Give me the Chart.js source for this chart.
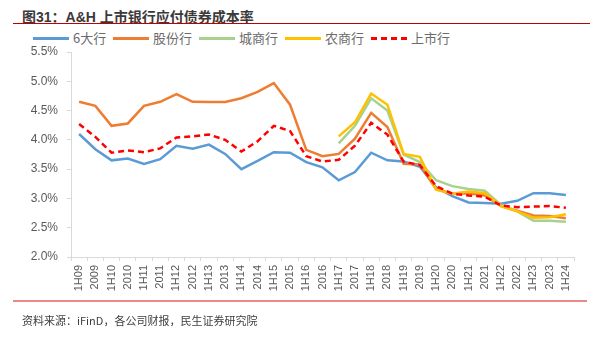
<!DOCTYPE html>
<html>
<head>
<meta charset="utf-8">
<script src="https://cdn.jsdelivr.net/npm/chart.js@4.4.1/dist/chart.umd.min.js"></script>
<style>
  html, body { margin: 0; padding: 0; background: #fff; }
  body { width: 602px; height: 337px; position: relative; overflow: hidden;
         font-family: "Liberation Sans", "Noto Sans CJK SC", sans-serif; }
  #title { position: absolute; left: 22px; top: 6px; font-size: 14px; font-weight: bold; color: #3a3a3a;
           font-family: "Liberation Sans", "Noto Sans CJK SC", sans-serif; }
  #topline { position: absolute; left: 13px; top: 23px; width: 577px; height: 1px; background: #C00000; }
  #bottomline { position: absolute; left: 13px; top: 300px; width: 574px; height: 2px; background: #E8898A; }
  #source { position: absolute; left: 22px; top: 312px; font-size: 11px; color: #404040;
            font-family: "Noto Sans CJK SC", sans-serif; }
  #legend { position: absolute; top: 30px; left: 0; width: 602px; height: 16px; font-size: 13px; color: #6b6b6b;
            font-family: "Noto Sans CJK SC", sans-serif; }
  .item { position: absolute; top: 0; line-height: 16px; white-space: nowrap; }
  .swatch { position: absolute; top: 7px; width: 36px; height: 0; border-top: 3px solid; }
  canvas { position: absolute; left: 0; top: 0; }
</style>
</head>
<body>
<div id="title">图31：A&amp;H 上市银行应付债券成本率</div>
<div id="topline"></div>
<div id="legend"></div>
<canvas id="chart" width="602" height="337"></canvas>
<div id="bottomline"></div>
<div id="source">资料来源：iFinD，各公司财报，民生证券研究院</div>
<script>
/* Data (%) */
const periods = ['1H09', '2009', '1H10', '2010', '1H11', '2011', '1H12', '2012', '1H13', '2013',
                 '1H14', '2014', '1H15', '2015', '1H16', '2016', '1H17', '2017', '1H18', '2018',
                 '1H19', '2019', '1H20', '2020', '1H21', '2021', '1H22', '2022', '1H23', '2023', '1H24'];

const bigSix = [4.10, 3.84, 3.65, 3.68, 3.59, 3.67, 3.90, 3.85, 3.92, 3.76,
                3.50, 3.64, 3.79, 3.78, 3.62, 3.53, 3.31, 3.45, 3.78, 3.65,
                3.63, 3.54, 3.19, 3.04, 2.93, 2.92, 2.91, 2.96, 3.09, 3.09, 3.06];

const jointStock = [4.65, 4.58, 4.24, 4.28, 4.58, 4.65, 4.78, 4.65, 4.645, 4.645,
                    4.71, 4.82, 4.97, 4.60, 3.83, 3.72, 3.76, 4.02, 4.46, 4.22,
                    3.59, 3.58, 3.16, 3.08, 3.09, 3.05, 2.87, 2.79, 2.71, 2.70, 2.66];

const cityBanks = [null, null, null, null, null, null, null, null, null, null,
                   null, null, null, null, null, null, 3.94, 4.24, 4.71, 4.50,
                   3.75, 3.62, 3.31, 3.21, 3.16, 3.13, 2.89, 2.78, 2.62, 2.62, 2.60];

const ruralBanks = [null, null, null, null, null, null, null, null, null, null,
                    null, null, null, null, null, null, 4.06, 4.30, 4.79, 4.60,
                    3.76, 3.71, 3.15, 3.08, 3.12, 3.09, 2.87, 2.78, 2.67, 2.68, 2.73];

const listedBanks = [4.27, 4.05, 3.78, 3.82, 3.79, 3.855, 4.04, 4.06, 4.09, 4.00,
                     3.80, 3.975, 4.24, 4.15, 3.72, 3.63, 3.66, 3.90, 4.29, 4.09,
                     3.63, 3.57, 3.21, 3.08, 3.05, 3.03, 2.88, 2.85, 2.86, 2.87, 2.84];

const yTicks = [2.0, 2.5, 3.0, 3.5, 4.0, 4.5, 5.0, 5.5];

/* series setup: name, values, colour, dash, draw order */
const series = [
  ['6大行', bigSix, '#5B9BD5', [], 4],
  ['股份行', jointStock, '#ED7D31', [], 3],
  ['城商行', cityBanks, '#A9D18E', [], 2],
  ['农商行', ruralBanks, '#FFC000', [], 1],
  ['上市行', listedBanks, '#FF0000', [6, 4], 0]
];

/* HTML legend */
const legendX = [33, 113, 199, 285, 371];
const legend = document.getElementById('legend');
series.forEach(function(s, i) {
  const sw = document.createElement('div');
  sw.className = 'swatch';
  sw.style.left = legendX[i] + 'px';
  sw.style.borderTopColor = s[2];
  if (s[3].length) sw.style.borderTopStyle = 'dashed';
  legend.appendChild(sw);
  const txt = document.createElement('div');
  txt.className = 'item';
  txt.style.left = (legendX[i] + 40) + 'px';
  txt.textContent = s[0];
  legend.appendChild(txt);
});

const ctx = document.getElementById('chart').getContext('2d');
const chart = new Chart(ctx, {
  type: 'line',
  data: {
    labels: periods,
    datasets: series.map(function(s) {
      return {
        label: s[0],
        data: s[1],
        borderColor: s[2],
        backgroundColor: s[2],
        borderDash: s[3],
        borderWidth: 2.5,
        pointRadius: 0,
        tension: 0,
        spanGaps: false,
        order: s[4]
      };
    })
  },
  options: {
    responsive: false,
    animation: false,
    layout: { padding: { top: 52, right: 28, bottom: 0, left: 0 } },
    plugins: { legend: { display: false }, tooltip: { enabled: false } },
    scales: {
      x: {
        offset: true,
        grid: { offset: true, drawOnChartArea: false, drawTicks: true, tickLength: 4, color: '#d9d9d9' },
        border: { color: '#d9d9d9', width: 1 },
        ticks: {
          autoSkip: false, minRotation: 90, maxRotation: 90, padding: 4,
          color: '#595959', font: { family: 'Liberation Sans', size: 11 }
        },
        afterFit: function(scale) { scale.height = 80; }
      },
      y: {
        min: 2.0, max: 5.5,
        afterBuildTicks: function(scale) { scale.ticks = yTicks.map(function(v) { return { value: v }; }); },
        grid: { drawOnChartArea: false, drawTicks: true, tickLength: 4, color: '#d9d9d9' },
        border: { color: '#d9d9d9', width: 1 },
        ticks: {
          padding: 9, color: '#595959', font: { family: 'Liberation Sans', size: 12 },
          callback: function(v) { return Number(v).toFixed(1) + '%'; }
        },
        afterFit: function(scale) { scale.width = 71; }
      }
    }
  }
});
</script>
</body>
</html>
